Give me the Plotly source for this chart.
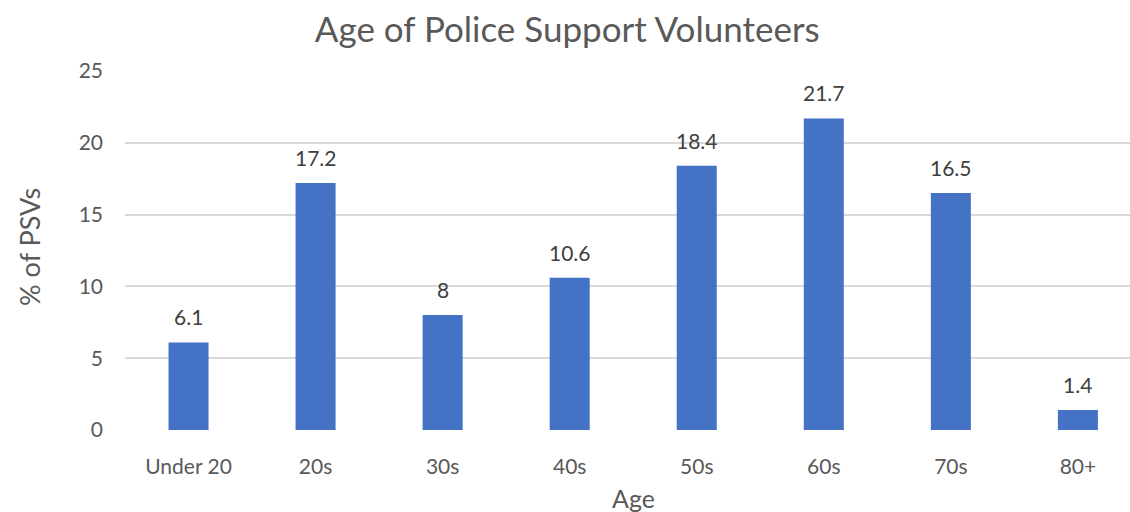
import plotly.graph_objects as go

# Age groups and share of police support volunteers (%)
age_groups = ["Under 20", "20s", "30s", "40s", "50s", "60s", "70s", "80+"]
pct_psvs = [6.1, 17.2, 8, 10.6, 18.4, 21.7, 16.5, 1.4]
y_ticks = [0, 5, 10, 15, 20, 25]

FONT = "Lato"
TEXT_GREY = "#595959"
LABEL_GREY = "#404040"
BAR_BLUE = "#4472C4"

fig = go.Figure(
    go.Bar(
        x=list(range(len(age_groups))),
        y=pct_psvs,
        width=0.315,
        marker=dict(color=BAR_BLUE, line=dict(width=0)),
        hoverinfo="skip",
    )
)

# value labels sitting above each bar
for i, v in enumerate(pct_psvs):
    fig.add_annotation(
        x=i, y=v, xref="x", yref="y",
        text=f"{v:g}", showarrow=False,
        yanchor="bottom", yshift=11,
        font=dict(family=FONT, size=21, color=LABEL_GREY),
    )

# axis titles
fig.add_annotation(
    x=-0.0945, y=0.51, xref="paper", yref="paper",
    text="% of PSVs", showarrow=False, textangle=-90,
    xanchor="center", yanchor="middle",
    font=dict(family=FONT, size=27, color=TEXT_GREY),
)
fig.add_annotation(
    x=0.5055, y=-0.19, xref="paper", yref="paper",
    text="Age", showarrow=False,
    xanchor="center", yanchor="middle",
    font=dict(family=FONT, size=25, color=TEXT_GREY),
)

fig.update_layout(
    width=1130, height=512,
    margin=dict(l=125, r=0, t=71, b=82),
    paper_bgcolor="white", plot_bgcolor="white",
    showlegend=False,
    title=dict(
        text="Age of Police Support Volunteers",
        x=0.502, xanchor="center", y=0.941, yanchor="middle",
        font=dict(family=FONT, size=35, color=TEXT_GREY),
    ),
    xaxis=dict(
        tickmode="array",
        tickvals=list(range(len(age_groups))),
        ticktext=age_groups,
        range=[-0.5, 7.41],
        showgrid=False, zeroline=False, showline=False,
        ticks="", ticklabelstandoff=22,
        tickfont=dict(family=FONT, size=21, color=TEXT_GREY),
    ),
    yaxis=dict(
        range=[0, 25],
        tickvals=y_ticks,
        showgrid=True, gridcolor="#D9D9D9", gridwidth=1.5,
        zeroline=False, showline=False,
        ticks="", ticklabelstandoff=21,
        tickfont=dict(family=FONT, size=21, color=TEXT_GREY),
    ),
)

fig.write_html("out.html")
